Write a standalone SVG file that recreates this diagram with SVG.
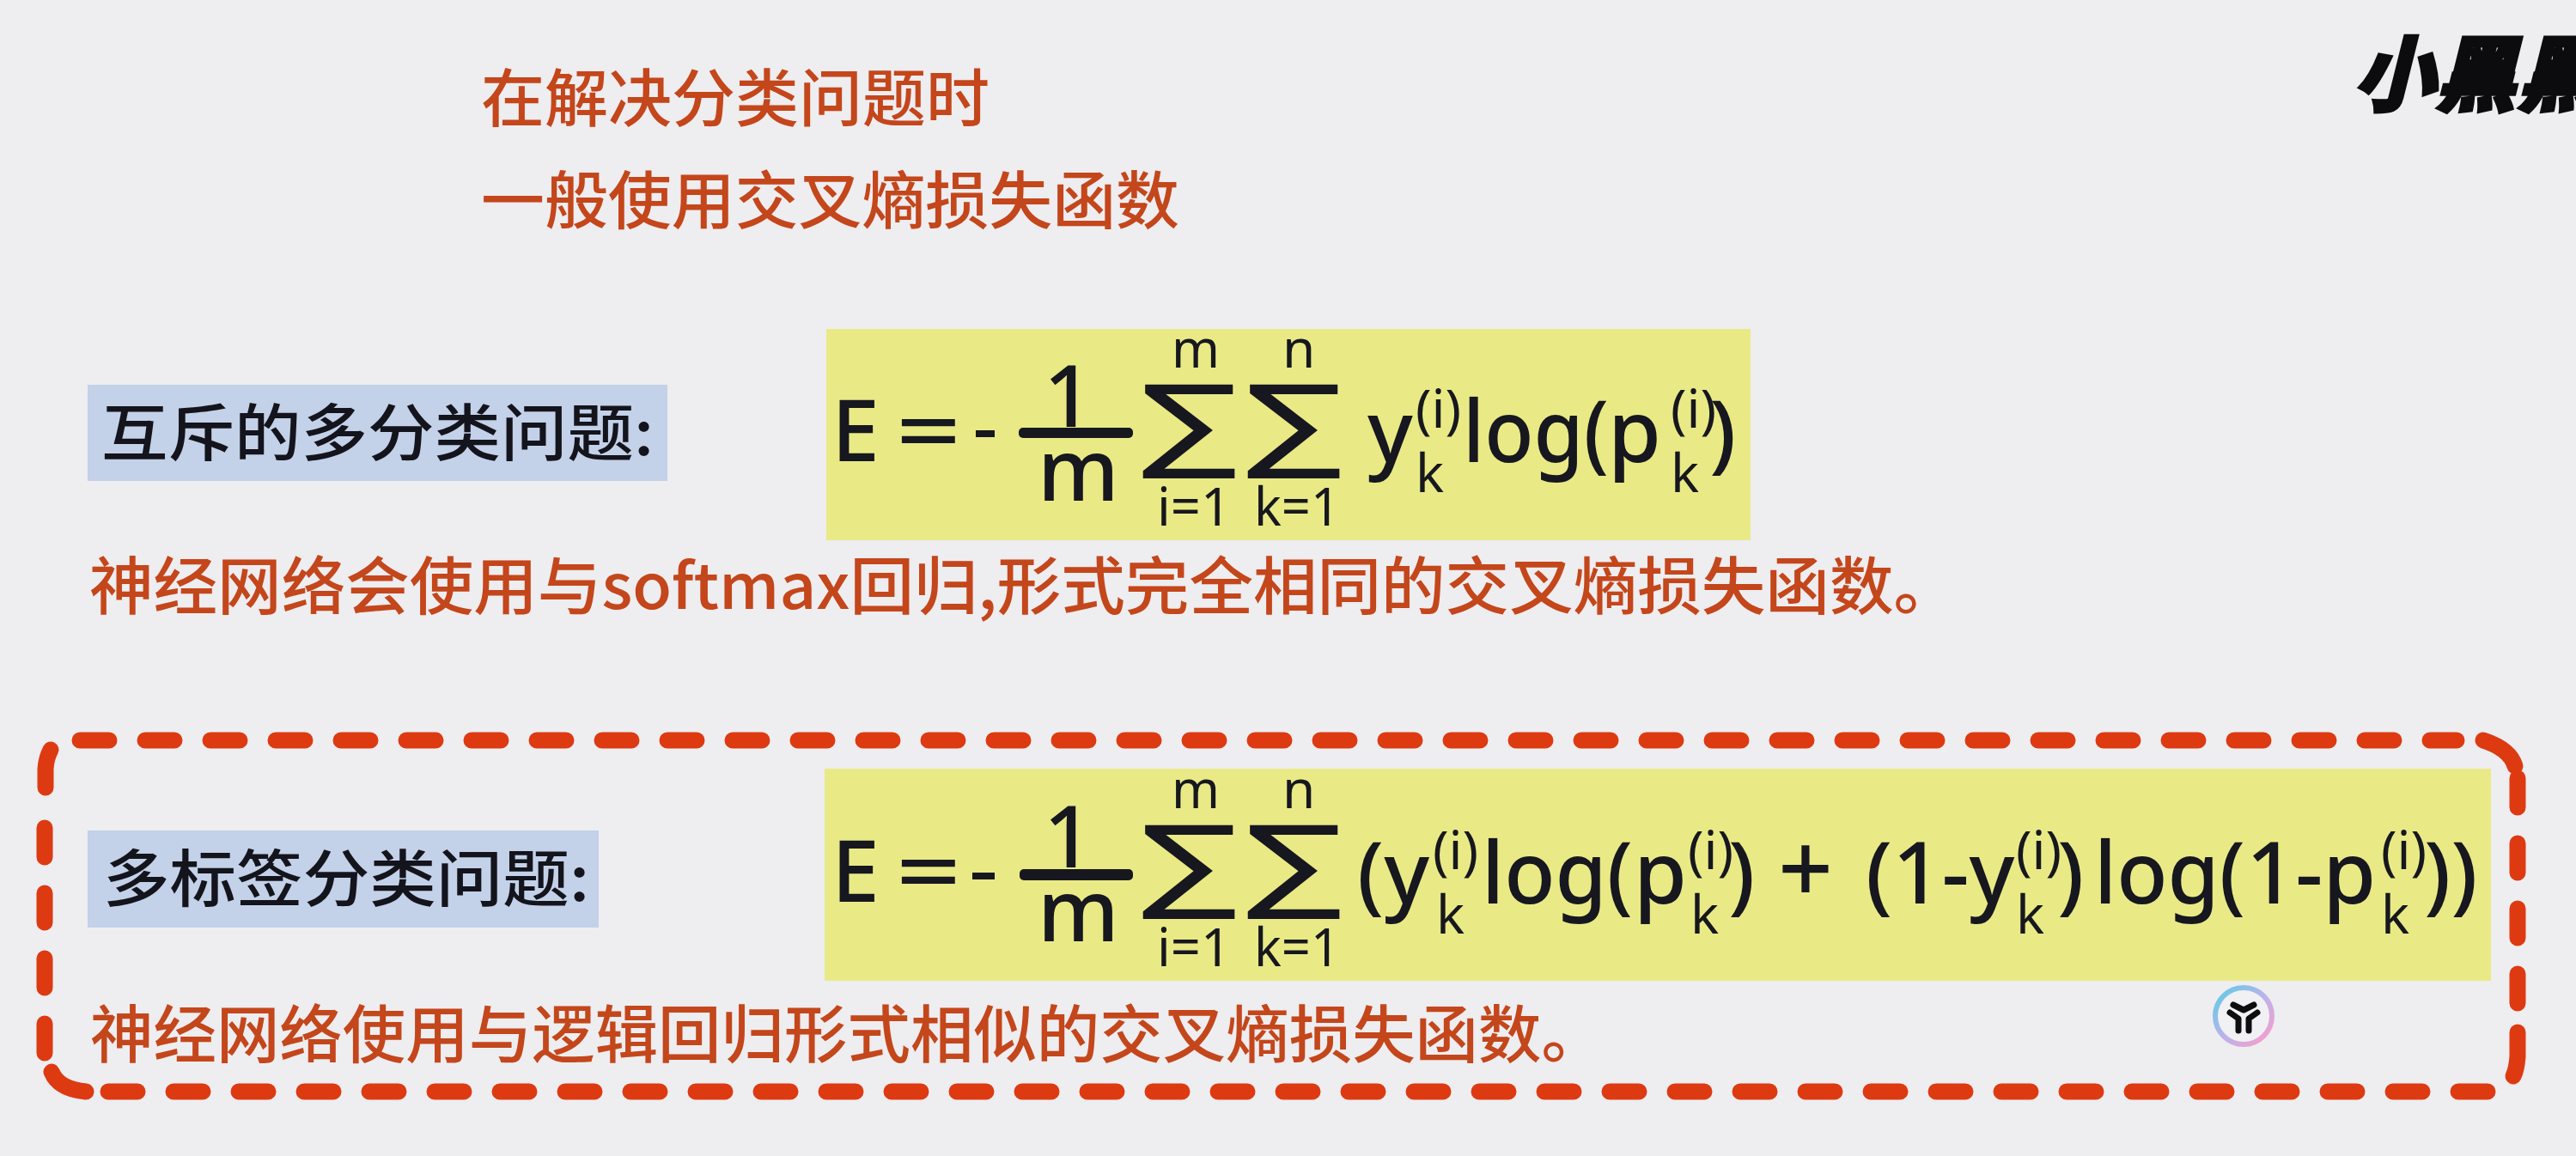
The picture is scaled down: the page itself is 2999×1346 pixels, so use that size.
<svg xmlns="http://www.w3.org/2000/svg" width="2999" height="1346" viewBox="0 0 2999 1346">
<defs>
<linearGradient id="ring" x1="0" y1="0" x2="1" y2="1"><stop offset="0.1" stop-color="#6cc8e6"/><stop offset="0.5" stop-color="#b9b4ea"/><stop offset="0.9" stop-color="#f0a0d0"/></linearGradient>
</defs>
<style>
.cn{font-family:"Noto Sans CJK SC","Noto Sans",sans-serif;font-weight:500;}
.logo{font-family:"Noto Sans CJK SC","Noto Sans",sans-serif;font-weight:900;font-size:96px;fill:#0c0c0e;stroke:#0c0c0e;stroke-width:3px;}
.or{fill:#c4461b;font-size:73px;}
.bk{fill:#14141c;font-size:72px;}
.m{font-family:"Noto Sans","Liberation Sans",sans-serif;fill:#17171f;font-size:100px;font-weight:500;}
.s{font-size:62px;font-weight:400;}
.sg{font-family:"DejaVu Sans",sans-serif;fill:#17171f;font-size:120px;}
.dash{fill:none;stroke:#dd3a12;stroke-width:19;stroke-linecap:round;stroke-dasharray:34 42;}
.corner{fill:none;stroke:#dd3a12;stroke-width:19;stroke-linecap:round;}
</style>
<rect width="2999" height="1346" fill="#eeedf0"/>
<g id="logo"><text class="logo" x="2740" y="122" transform="skewX(-14) translate(30,0)" textLength="285" lengthAdjust="spacingAndGlyphs">小黑黑</text></g>
<g id="title">
<text class="cn or" x="560" y="141" textLength="592" lengthAdjust="spacingAndGlyphs">在解决分类问题时</text>
<text class="cn or" x="560" y="260" textLength="813" lengthAdjust="spacingAndGlyphs">一般使用交叉熵损失函数</text>
</g>
<g id="label-1">
<rect x="102" y="448" width="675" height="112" fill="#c3d1e9"/>
<text class="cn bk" x="118" y="530" textLength="643" lengthAdjust="spacingAndGlyphs">互斥的多分类问题:</text>
</g>
<g id="formula-1">
<rect x="962" y="383" width="1076" height="246" fill="#e9ea86"/>
<text class="m" x="968" y="537" textLength="56" lengthAdjust="spacingAndGlyphs">E</text>
<text class="m" x="1043" y="537" textLength="76" lengthAdjust="spacingAndGlyphs">=</text>
<rect x="1136" y="501" width="22" height="8" fill="#17171f"/>
<rect x="1186" y="498" width="133" height="12" rx="5" fill="#17171f"/>
<text class="m" x="1215" y="497" font-size="112">1</text>
<text class="m" x="1208" y="583">m</text>
<text class="sg" x="1329" y="534" textLength="112" lengthAdjust="spacingAndGlyphs">∑</text>
<text class="sg" x="1451" y="534" textLength="112" lengthAdjust="spacingAndGlyphs">∑</text>
<text class="m s" x="1364" y="428" textLength="56" lengthAdjust="spacingAndGlyphs">m</text>
<text class="m s" x="1493" y="428">n</text>
<text class="m s" x="1347" y="612" textLength="86" lengthAdjust="spacingAndGlyphs">i=1</text>
<text class="m s" x="1460" y="612" textLength="100" lengthAdjust="spacingAndGlyphs">k=1</text>
<text class="m" x="1592" y="538">y</text>
<text class="m s" x="1648" y="498">(i)</text>
<text class="m s" x="1648" y="573">k</text>
<text class="m" x="1703" y="538" textLength="170" lengthAdjust="spacingAndGlyphs">log(</text>
<text class="m" x="1872" y="538">p</text>
<text class="m s" x="1945" y="498">(i)</text>
<text class="m s" x="1945" y="573">k</text>
<text class="m" x="1990" y="538">)</text>
</g>
<g id="note-1"><text class="cn or" x="104" y="709" textLength="2175" lengthAdjust="spacingAndGlyphs">神经网络会使用与softmax回归,形式完全相同的交叉熵损失函数。</text></g>
<g id="box">
<path class="dash" d="M93 862H2860"/>
<path class="corner" d="M2891 862Q2922 872 2928 892"/>
<path class="dash" d="M2931 906V1190"/>
<path class="corner" d="M2931 1202V1230Q2930 1245 2926 1253"/>
<path class="dash" d="M2896 1271H120"/>
<path class="corner" d="M100 1271Q68 1268 60 1248"/>
<path class="dash" d="M52 1226V940"/>
<path class="corner" d="M53 917V895Q54 882 59 873"/>
</g>
<g id="label-2">
<rect x="102" y="967" width="595" height="113" fill="#c3d1e9"/>
<text class="cn bk" x="120" y="1049" textLength="566" lengthAdjust="spacingAndGlyphs">多标签分类问题:</text>
</g>
<g id="formula-2">
<rect x="960" y="895" width="1940" height="247" fill="#e9ea86"/>
<text class="m" x="968" y="1050" textLength="56" lengthAdjust="spacingAndGlyphs">E</text>
<text class="m" x="1043" y="1050" textLength="76" lengthAdjust="spacingAndGlyphs">=</text>
<rect x="1132" y="1016" width="26" height="8" fill="#17171f"/>
<rect x="1187" y="1012" width="132" height="13" rx="5" fill="#17171f"/>
<text class="m" x="1215" y="1010" font-size="112">1</text>
<text class="m" x="1208" y="1096">m</text>
<text class="sg" x="1329" y="1047" textLength="112" lengthAdjust="spacingAndGlyphs">∑</text>
<text class="sg" x="1451" y="1047" textLength="112" lengthAdjust="spacingAndGlyphs">∑</text>
<text class="m s" x="1364" y="941" textLength="56" lengthAdjust="spacingAndGlyphs">m</text>
<text class="m s" x="1493" y="941">n</text>
<text class="m s" x="1347" y="1125" textLength="86" lengthAdjust="spacingAndGlyphs">i=1</text>
<text class="m s" x="1460" y="1125" textLength="100" lengthAdjust="spacingAndGlyphs">k=1</text>
<text class="m" x="1580" y="1052">(y</text>
<text class="m s" x="1668" y="1012">(i)</text>
<text class="m s" x="1672" y="1087">k</text>
<text class="m" x="1725" y="1052" textLength="176" lengthAdjust="spacingAndGlyphs">log(</text>
<text class="m" x="1902" y="1052">p</text>
<text class="m s" x="1965" y="1012">(i)</text>
<text class="m s" x="1968" y="1087">k</text>
<text class="m" x="2012" y="1052">)</text>
<text class="m" x="2070" y="1052" style="font-size:112px">+</text>
<text class="m" x="2172" y="1052">(1-y</text>
<text class="m s" x="2347" y="1012">(i)</text>
<text class="m s" x="2347" y="1087">k</text>
<text class="m" x="2395" y="1052">)</text>
<text class="m" x="2438" y="1052" textLength="176" lengthAdjust="spacingAndGlyphs">log(</text>
<text class="m" x="2615" y="1052">1-p</text>
<text class="m s" x="2772" y="1012">(i)</text>
<text class="m s" x="2772" y="1087">k</text>
<text class="m" x="2822" y="1052">))</text>
</g>
<g id="note-2"><text class="cn or" x="105" y="1231" textLength="1763" lengthAdjust="spacingAndGlyphs">神经网络使用与逻辑回归形式相似的交叉熵损失函数。</text></g>
<g id="badge">
<circle cx="2612" cy="1183" r="33" fill="#f1f0f3" stroke="url(#ring)" stroke-width="6"/>
<path d="M2600 1170L2612 1176L2624 1170M2596 1179L2606 1186V1200M2628 1179L2618 1186V1200" fill="none" stroke="#0d0d10" stroke-width="7" stroke-linecap="round" stroke-linejoin="round"/>
</g>
</svg>
